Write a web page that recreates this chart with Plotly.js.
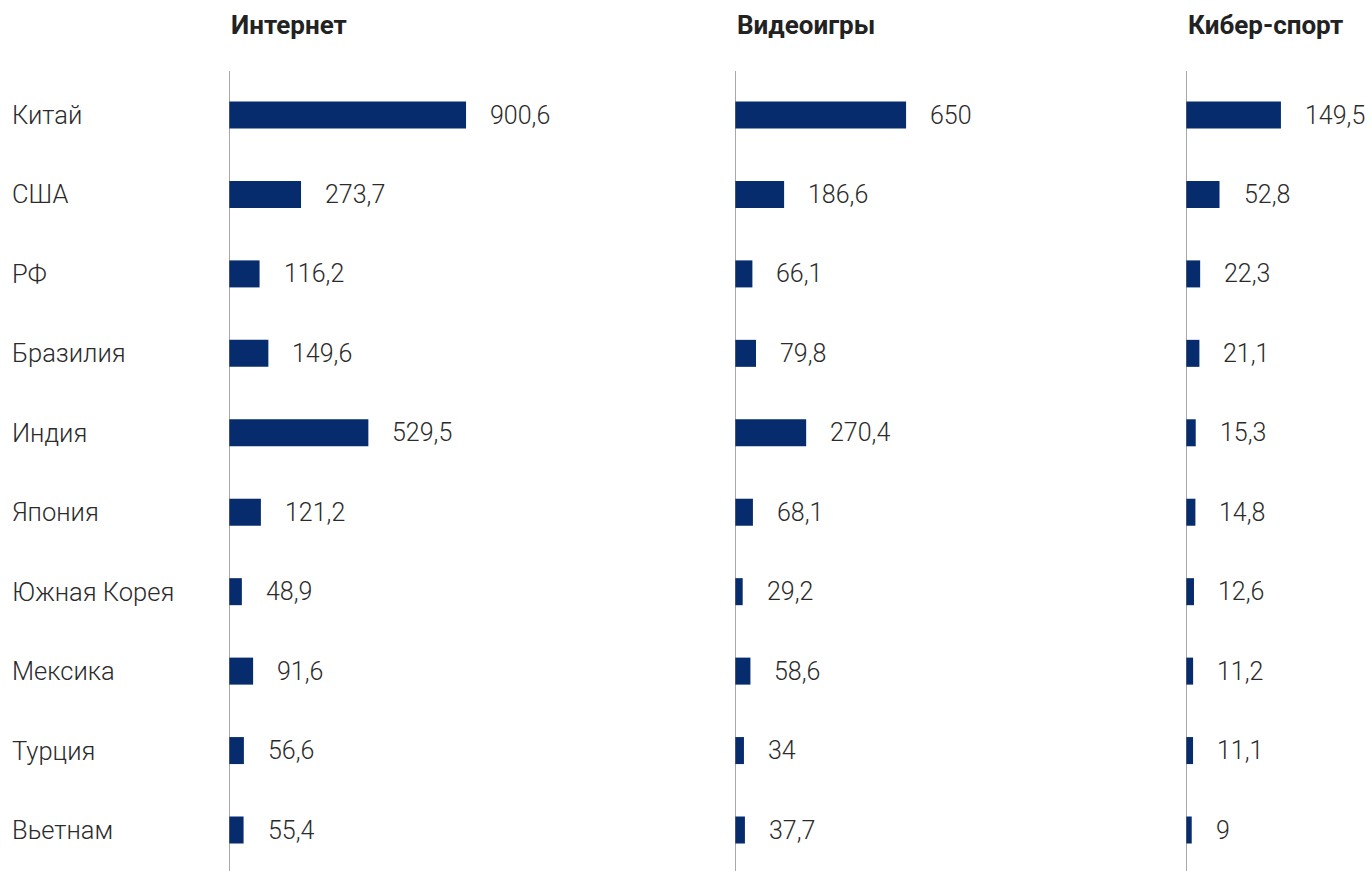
<!DOCTYPE html>
<html>
<head>
<meta charset="utf-8">
<script src="https://cdn.plot.ly/plotly-3.0.1.min.js"></script>
<style>html,body{margin:0;padding:0;background:#fff;}#chart{width:1372px;height:871px;}</style>
</head>
<body>
<div id="chart"></div>
<script>
const countries = ["Китай","США","РФ","Бразилия","Индия","Япония","Южная Корея","Мексика","Турция","Вьетнам"];
const panelTitles = ["Интернет","Видеоигры","Кибер-спорт"];
const internet = [900.6,273.7,116.2,149.6,529.5,121.2,48.9,91.6,56.6,55.4];
const videogames = [650,186.6,66.1,79.8,270.4,68.1,29.2,58.6,34,37.7];
const esports = [149.5,52.8,22.3,21.1,15.3,14.8,12.6,11.2,11.1,9];

const W = 1372;
const barColor = "#062c6e";
const textColor = "#2b2b2b";
const fontFam = "Roboto, 'DejaVu Sans', sans-serif";

const series = [internet, videogames, esports];
const axisNames = ["x","x2","x3"];
const domainsPx = [[229,700],[735,1170],[1186,1372]];
const pxPerUnit = [0.2632,0.2632,0.635];

const fmt = v => String(v).replace(".", ",");

const traces = series.map((vals,i)=>({
  type:"bar", orientation:"h",
  x: vals, y: countries,
  xaxis: axisNames[i], yaxis:"y",
  marker:{color:barColor},
  width:0.34,
  hoverinfo:"skip",
  showlegend:false
}));

const layout = {
  width:W, height:871,
  margin:{l:0,r:0,t:71,b:0},
  paper_bgcolor:"#fff", plot_bgcolor:"rgba(0,0,0,0)",
  font:{family:fontFam, color:textColor},
  yaxis:{type:"category", categoryarray:countries, range:[9.516,-0.554],
         showticklabels:false, showgrid:false, zeroline:false, showline:false, fixedrange:true},
  annotations:[], shapes:[]
};

domainsPx.forEach((d,i)=>{
  const key = i===0 ? "xaxis" : "xaxis"+(i+1);
  layout[key] = {
    domain:[d[0]/W, d[1]/W],
    range:[0,(d[1]-d[0])/pxPerUnit[i]],
    anchor:"y",
    showticklabels:false, showgrid:false, zeroline:false, showline:false, fixedrange:true
  };
  layout.shapes.push({type:"line", xref:axisNames[i], yref:"paper", x0:0, x1:0, y0:0, y1:1,
    line:{color:"#6e6e6e", width:1.2}, layer:"above"});
  layout.annotations.push({
    text:"<b>"+panelTitles[i]+"</b>", xref:"paper", yref:"paper",
    x:d[0]/W, y:1, xanchor:"left", yanchor:"middle", yshift:46, showarrow:false,
    font:{size:26, color:"#222", family:fontFam}
  });
  series[i].forEach((v,j)=>{
    layout.annotations.push({
      text:fmt(v), xref:axisNames[i], yref:"y", x:v, y:countries[j],
      xanchor:"left", yanchor:"middle", xshift:22, showarrow:false,
      font:{size:25, color:textColor, family:fontFam, weight:300}
    });
  });
});

countries.forEach(c=>{
  layout.annotations.push({
    text:c, xref:"paper", yref:"y", x:10/W, y:c, xanchor:"left", yanchor:"middle",
    showarrow:false, font:{size:25.5, color:textColor, family:fontFam, weight:300}
  });
});

Plotly.newPlot("chart", traces, layout, {displayModeBar:false, staticPlot:true});
</script>
</body>
</html>
